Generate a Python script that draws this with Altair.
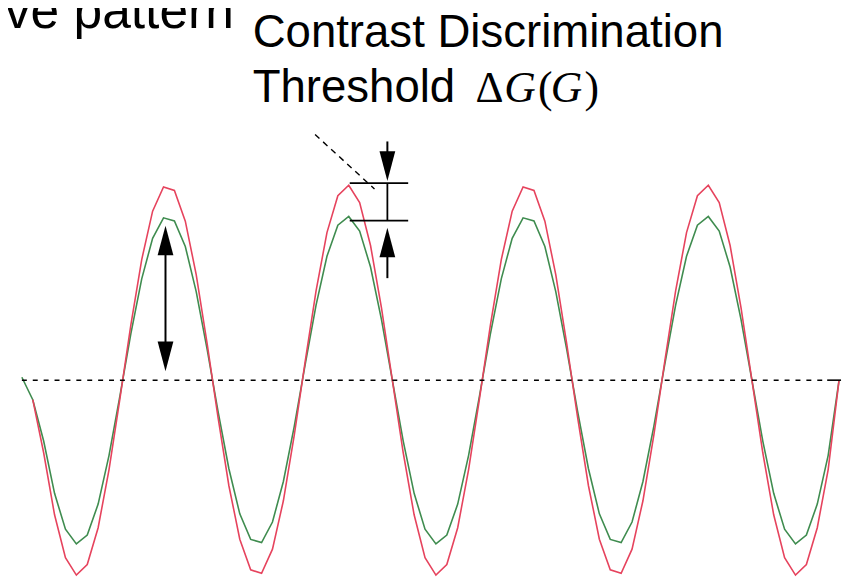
import altair as alt
import pandas as pd

# ---- data ----
sample_idx = list(range(75))
red_vals = [
    -0.10, -0.372, -0.690, -0.910, -0.999, -0.945, -0.756, -0.458, -0.095, 0.282, 0.618,
    0.866, 0.990, 0.972, 0.815, 0.541, 0.189, -0.189, -0.541, -0.815, -0.972, -0.990,
    -0.866, -0.618, -0.282, 0.095, 0.458, 0.756, 0.945, 0.999, 0.910, 0.690, 0.372,
    0.000, -0.372, -0.690, -0.910, -0.999, -0.945, -0.756, -0.458, -0.095, 0.282, 0.618,
    0.866, 0.990, 0.972, 0.815, 0.541, 0.189, -0.189, -0.541, -0.815, -0.972, -0.990,
    -0.866, -0.618, -0.282, 0.095, 0.458, 0.756, 0.945, 0.999, 0.910, 0.690, 0.372,
    0.000, -0.372, -0.690, -0.910, -0.999, -0.945, -0.756, -0.458, 0.000,
]
green_idx = [-1] + list(range(75))
green_vals = [
    0.015,
    -0.10, -0.312, -0.580, -0.764, -0.839, -0.794, -0.635, -0.385, -0.080, 0.237, 0.519,
    0.727, 0.832, 0.816, 0.685, 0.454, 0.159, -0.159, -0.454, -0.685, -0.816, -0.832,
    -0.727, -0.519, -0.237, 0.080, 0.385, 0.635, 0.794, 0.839, 0.764, 0.580, 0.312,
    0.000, -0.312, -0.580, -0.764, -0.839, -0.794, -0.635, -0.385, -0.080, 0.237, 0.519,
    0.727, 0.832, 0.816, 0.685, 0.454, 0.159, -0.159, -0.454, -0.685, -0.816, -0.832,
    -0.727, -0.519, -0.237, 0.080, 0.385, 0.635, 0.794, 0.839, 0.764, 0.580, 0.312,
    0.000, -0.312, -0.580, -0.764, -0.839, -0.794, -0.635, -0.385, 0.000,
]

corner_text = "wave pattern"
title_line1 = "Contrast Discrimination"
title_line2 = "Threshold"
math_parts = ["Δ", "G", "(", "G", ")"]
math_styles = ["normal", "italic", "normal", "italic", "normal"]

RED = "#e6435d"
GREEN = "#3f8c4f"

W, H = 846, 572
xs = alt.Scale(domain=[-2.2727, 74.636], zero=False, nice=False)
ys = alt.Scale(domain=[-1.0102, 1.8934], zero=False, nice=False)

red_df = pd.DataFrame({"i": sample_idx, "v": red_vals})
green_df = pd.DataFrame({"i": green_idx, "v": green_vals})
one = pd.DataFrame({"k": [0]})

green_line = alt.Chart(green_df).mark_line(color=GREEN, strokeWidth=1.6).encode(
    x=alt.X("i:Q", scale=xs, axis=None),
    y=alt.Y("v:Q", scale=ys, axis=None),
    order="i:Q",
)
red_line = alt.Chart(red_df).mark_line(color=RED, strokeWidth=1.6).encode(
    x=alt.X("i:Q", scale=xs, axis=None),
    y=alt.Y("v:Q", scale=ys, axis=None),
    order="i:Q",
)

baseline = alt.Chart(one).mark_rule(color="black", strokeWidth=1.6, strokeDash=[5, 6]).encode(
    x=alt.value(14), x2=alt.value(827), y=alt.datum(0)
)
baseline_end = alt.Chart(one).mark_rule(color="black", strokeWidth=1.6).encode(
    x=alt.value(827), x2=alt.value(841), y=alt.datum(0)
)


def rule(x, y, x2, y2, width=1.8, dash=None):
    kw = dict(color="black", strokeWidth=width)
    if dash:
        kw["strokeDash"] = dash
    return alt.Chart(one).mark_rule(**kw).encode(
        x=alt.value(x), y=alt.value(y), x2=alt.value(x2), y2=alt.value(y2)
    )


UP = "M0,-1L0.53,1L-0.53,1Z"
DOWN = "M0,1L0.53,-1L-0.53,-1Z"


def head(x, y, path):
    return alt.Chart(one).mark_point(
        shape=path, filled=True, size=900, color="black", opacity=1, strokeWidth=0
    ).encode(x=alt.value(x), y=alt.value(y))


def label(x, y, txt, font, size, style="normal", align="left"):
    return alt.Chart(one).mark_text(
        text=txt, font=font, fontSize=size, fontStyle=style, align=align,
        baseline="alphabetic", color="black",
    ).encode(x=alt.value(x), y=alt.value(y))


layers = [green_line, red_line, baseline, baseline_end]

# double arrow (amplitude)
layers += [rule(159, 240, 159, 345, 2), head(159, 232, UP), head(159, 349, DOWN)]

# threshold marker
layers += [
    rule(345, 174, 404, 174, 1.8),
    rule(345, 212, 404, 212, 1.8),
    rule(383, 174, 383, 212, 1.8),
    rule(383, 132, 383, 146, 2),
    head(383, 157, DOWN),
    head(383, 234, UP),
    rule(383, 244, 383, 270, 2),
    rule(310, 125, 370, 180, 1.4, [6, 5]),
]

# texts
layers += [
    label(228, 17, corner_text, "Liberation Sans", 52, align="right"),
    label(247, 37, title_line1, "Liberation Sans", 46),
    label(247, 92, title_line2, "Liberation Sans", 46),
]
math_x = [472, 501, 535, 548, 582]
for px, part, st in zip(math_x, math_parts, math_styles):
    layers.append(label(px, 92, part, "Liberation Serif", 44, style=st))

chart = alt.layer(*layers).properties(
    width=W, height=H, padding=0, autosize=alt.AutoSizeParams(type="none"),
    background="white",
).configure_view(stroke=None)

chart.save("out.html", embed_options={"renderer": "svg", "actions": False})
